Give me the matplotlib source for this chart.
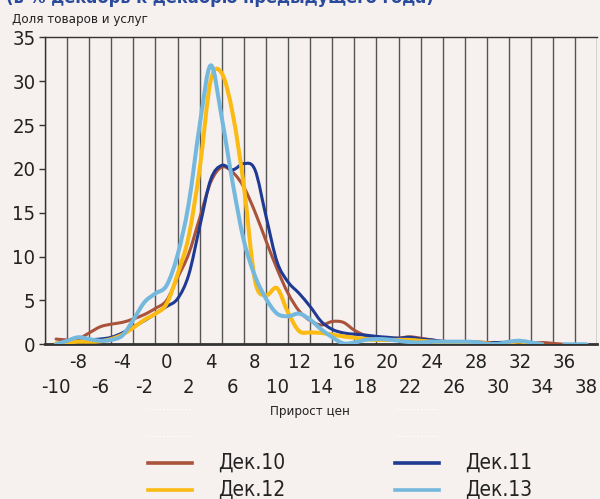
import numpy as np
import matplotlib
matplotlib.use("Agg")
import matplotlib.pyplot as plt
from matplotlib.path import Path
from matplotlib.patches import PathPatch
from matplotlib.lines import Line2D
from matplotlib.ticker import FixedLocator, FixedFormatter

plt.rcParams["font.family"] = ["DejaVu Sans"]
plt.rcParams["font.stretch"] = "condensed"

# price growth bins (%)
growth = list(range(-10, 39))
nan = np.nan

dec10 = [0.6, 0.5, 0.6, 1.3, 2.0, 2.3, 2.5, 2.9, 3.4, 4.1,
         5.0, 7.6, 10.3, 14.4, 18.5, 20.2, 19.6, 17.9, 15.1, 11.8,
         8.6, 5.8, 3.8, 2.7, 2.2, 2.6, 2.5, 1.6, 1.0, 0.8,
         0.7, 0.7, 0.85, 0.7, 0.5, 0.35, 0.3, 0.3, 0.3, 0.2,
         0.2, 0.1, 0.1, 0.1, 0.2, 0.1, 0.0, nan, nan]
dec11 = [0.1, 0.2, 0.3, 0.5, 0.6, 0.8, 1.3, 2.0, 2.7, 3.5,
         4.3, 5.2, 7.9, 13.4, 18.8, 20.4, 19.9, 20.6, 19.9, 14.6,
         9.4, 7.1, 5.8, 4.3, 2.6, 1.7, 1.3, 1.15, 1.05, 0.9,
         0.8, 0.7, 0.8, 0.6, 0.5, 0.3, 0.2, 0.1, 0.0, 0.1,
         0.2, 0.2, 0.0, nan, nan, nan, nan, nan, nan]
dec12 = [0.1, 0.2, 0.3, 0.3, 0.35, 0.6, 1.1, 1.9, 2.8, 3.5,
         4.6, 8.0, 12.3, 20.0, 30.1, 30.9, 26.2, 18.0, 7.3, 5.6,
         6.4, 3.6, 1.5, 1.35, 1.3, 1.1, 0.9, 0.75, 0.6, 0.5,
         0.5, 0.5, 0.5, 0.4, 0.3, 0.15, 0.05, 0.1, 0.2, 0.1,
         0.0, 0.2, 0.3, 0.1, 0.0, nan, nan, nan, nan]
dec13 = [0.0, 0.4, 0.8, 0.6, 0.4, 0.5, 1.0, 2.8, 4.8, 5.8,
         6.7, 10.2, 16.0, 25.0, 31.8, 25.8, 18.3, 11.8, 7.8, 5.2,
         3.5, 3.2, 3.5, 2.8, 1.7, 0.8, 0.1, 0.2, 0.5, 0.6,
         0.55, 0.4, 0.25, 0.2, 0.3, 0.3, 0.3, 0.3, 0.25, 0.05,
         0.05, 0.3, 0.4, 0.2, 0.0, nan, 0.0, 0.0, 0.0]

series = [("Дек.10", dec10, "#a9533a", 2.2),
          ("Дек.11", dec11, "#1f3a93", 2.2),
          ("Дек.12", dec12, "#fbbb13", 2.9),
          ("Дек.13", dec13, "#74b8de", 2.9)]

bg = "#f6f0ee"


def smooth_path(x, y):
    # Catmull-Rom style bezier through the points (like a smoothed line)
    n = len(x)
    verts = [(x[0], y[0])]
    codes = [Path.MOVETO]
    for i in range(n - 1):
        p0 = i - 1 if i > 0 else i
        p3 = i + 2 if i + 2 < n else i + 1
        c1 = (x[i] + (x[i + 1] - x[p0]) / 6, y[i] + (y[i + 1] - y[p0]) / 6)
        c2 = (x[i + 1] - (x[p3] - x[i]) / 6, y[i + 1] - (y[p3] - y[i]) / 6)
        verts += [c1, c2, (x[i + 1], y[i + 1])]
        codes += [Path.CURVE4] * 3
    return Path(verts, codes)


def draw_series(ax, xs, ys, color, lw):
    xs = np.asarray(xs, float)
    ys = np.asarray(ys, float)
    ok = ~np.isnan(ys)
    start = None
    for i in range(len(ys) + 1):
        good = i < len(ys) and ok[i]
        if good and start is None:
            start = i
        elif not good and start is not None:
            if i - start > 1:
                p = smooth_path(xs[start:i], ys[start:i])
                ax.add_patch(PathPatch(p, fill=False, edgecolor=color, lw=lw,
                                       capstyle="round", joinstyle="round",
                                       zorder=3))
            start = None


fig = plt.figure(figsize=(6, 4.99), dpi=100, facecolor=bg)
W, H = 600, 499
ax = fig.add_axes([45 / W, 1 - 344.3 / H, 552.5 / W, 307 / H])
ax.set_facecolor(bg)

for name, vals, color, lw in series:
    draw_series(ax, growth, vals, color, lw)

ax.set_xlim(-11, 39)
ax.set_ylim(0, 35)

# vertical grid on bin boundaries
for b in range(-11, 40, 2):
    ax.axvline(b, color="#555555", lw=1.0, zorder=1)

# tick labels in two staggered rows
upper = growth[2::4]
lower = growth[0::4]
ax.xaxis.set_major_locator(FixedLocator(upper))
ax.xaxis.set_major_formatter(FixedFormatter([str(v) for v in upper]))
ax.xaxis.set_minor_locator(FixedLocator(lower))
ax.xaxis.set_minor_formatter(FixedFormatter([str(v) for v in lower]))
ax.tick_params(axis="x", which="major", length=0, pad=6, labelsize=14.5,
               labelcolor="#222222")
ax.tick_params(axis="x", which="minor", length=0, pad=24, labelsize=14.5,
               labelcolor="#222222")

ax.set_yticks(range(0, 36, 5))
ax.tick_params(axis="y", length=4, width=1, color="#333333", pad=3,
               labelsize=14.5, labelcolor="#222222")

for s in ["left", "top"]:
    ax.spines[s].set_color("#333333")
    ax.spines[s].set_linewidth(1.0)
ax.spines["right"].set_visible(False)
ax.spines["bottom"].set_color("#333333")
ax.spines["bottom"].set_linewidth(2.0)

fig.text(12 / W, 1 - 20 / H, "Доля товаров и услуг", fontsize=9.5,
         va="center", ha="left", color="#222222")
fig.text(310 / W, 1 - 411 / H, "Прирост цен", fontsize=9.5,
         va="center", ha="center", color="#222222")
fig.text(6 / W, 1 - 3 / H, "(в % декабрь к декабрю предыдущего года)",
         fontsize=13, fontweight="bold", color="#2a4b9b", va="baseline",
         ha="left")

# legend
for yy in (409, 436):
    for x0 in (148, 395):
        fig.add_artist(Line2D([x0 / W, (x0 + 42) / W], [1 - yy / H] * 2,
                              color="white", lw=1, ls=":"))
pos = [(148, 463), (395, 463), (148, 490), (395, 490)]
for (name, vals, color, lw), (x0, yy) in zip(series, pos):
    fig.add_artist(Line2D([x0 / W, (x0 + 44) / W], [1 - yy / H] * 2,
                          color=color, lw=2.6))
    fig.text((x0 + 70) / W, 1 - yy / H, name, fontsize=15, va="center",
             ha="left", color="#222222")

fig.savefig("out.png", dpi=100, facecolor=bg)
